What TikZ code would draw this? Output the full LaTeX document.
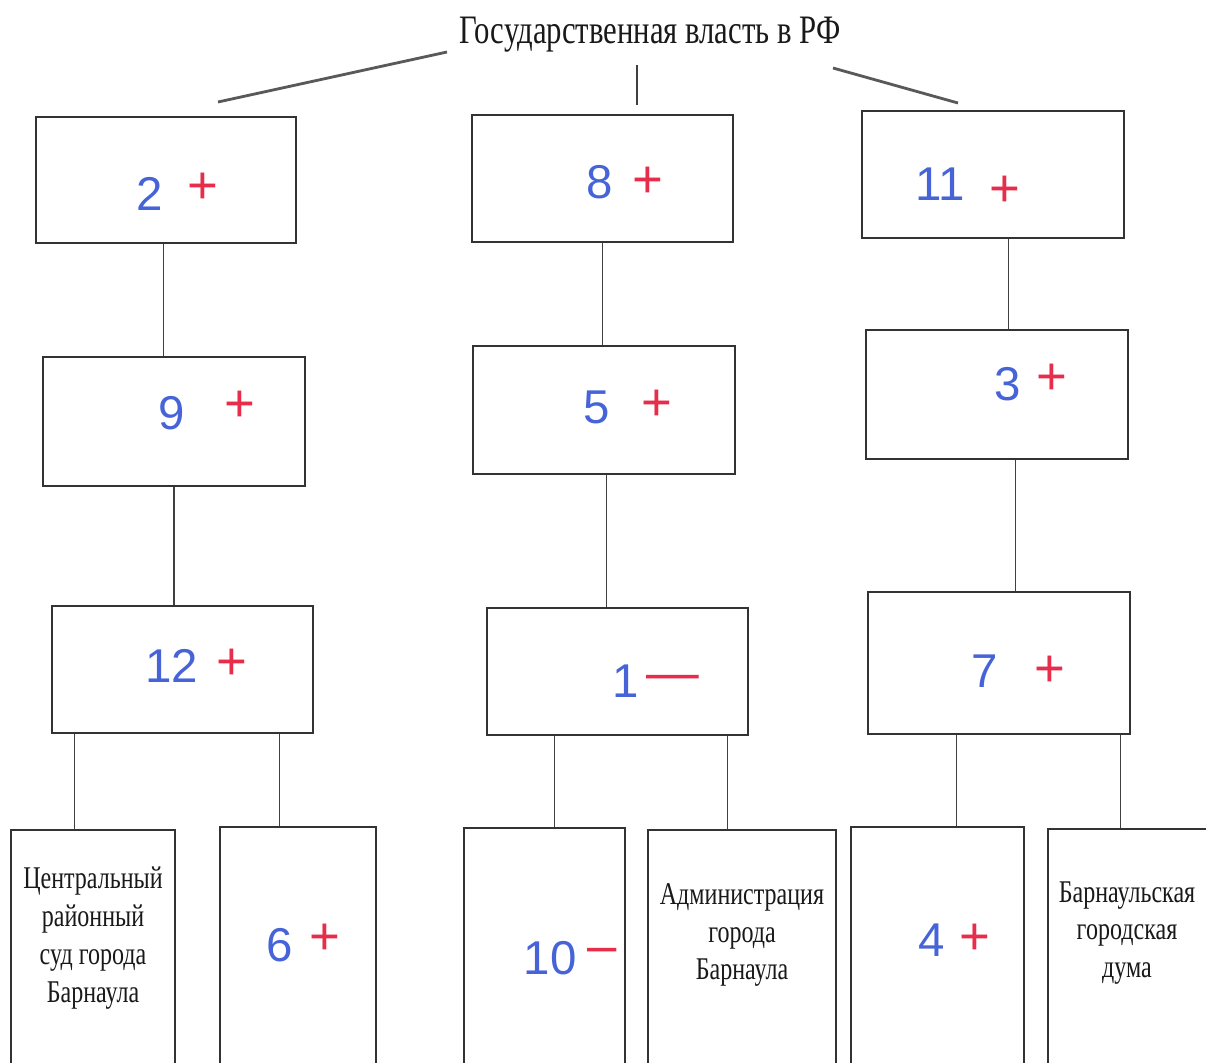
\documentclass[tikz,border=0pt]{standalone}
\usepackage{fontspec}
\setmainfont{Liberation Serif}
\newfontfamily\narrowfont[FakeStretch=0.76]{Liberation Serif}
\newfontfamily\handfont{Liberation Sans}
\usetikzlibrary{fit,calc}
\definecolor{ink}{RGB}{70,100,215}
\definecolor{redpen}{RGB}{232,45,75}
\tikzset{
  box/.style={draw=black!80, line width=0.8pt, inner sep=0pt},
  link/.style={draw=black!75, line width=0.6pt},
  stroke/.style={draw=black!65, line width=1.6pt},
  num/.style={font=\handfont\fontsize{27}{28}\selectfont, text=ink},
  grade/.style={font=\handfont\fontsize{30}{30}\selectfont, text=redpen},
  print/.style={font=\narrowfont\fontsize{18}{21.6}\selectfont, align=center, text=black!90}
}
\begin{document}
\begin{tikzpicture}[x=0.02cm, y=-0.02cm]
    \clip (0,0) rectangle (1206,1062);
    \fill[white] (0,0) rectangle (1206,1062);
    % title and its three strokes
    \node[font=\narrowfont\fontsize{23}{26}\selectfont, text=black!90] (title) at (650,35) {Государственная власть в РФ};
    \coordinate (sl1) at (447,52);  \coordinate (sl2) at (218,102);
    \coordinate (sm1) at (637,65);  \coordinate (sm2) at (637,105);
    \coordinate (sr1) at (833,68);  \coordinate (sr2) at (958,103);
    \draw[stroke] (sl1) -- (sl2);
    \draw[link] (sm1) -- (sm2);
    \draw[stroke] (sr1) -- (sr2);
    % first row
    \node[box, fit={(36,117) (296,243)}] (a1) {};
    \node[box, fit={(472,115) (733,242)}] (b1) {};
    \node[box, fit={(862,111) (1124,238)}] (c1) {};
    % second row
    \node[box, fit={(43,357) (305,486)}] (a2) {};
    \node[box, fit={(473,346) (735,474)}] (b2) {};
    \node[box, fit={(866,330) (1128,459)}] (c2) {};
    % third row
    \node[box, fit={(52,606) (313,733)}] (a3) {};
    \node[box, fit={(487,608) (748,735)}] (b3) {};
    \node[box, fit={(868,592) (1130,734)}] (c3) {};
    % bottom row
    \node[box, fit={(11,830) (175,1080)}] (d1) {};
    \node[box, fit={(220,827) (376,1080)}] (d2) {};
    \node[box, fit={(464,828) (625,1080)}] (d3) {};
    \node[box, fit={(648,830) (836,1080)}] (d4) {};
    \node[box, fit={(851,827) (1024,1080)}] (d5) {};
    \node[box, fit={(1048,829) (1220,1080)}] (d6) {};
    % numbers and grades
    \node[num] (n2) at (150,194) {2};    \node[grade] (g2) at (203,188) {+};
    \node[num] (n8) at (600,182) {8};    \node[grade] (g8) at (648,182) {+};
    \node[num] (n11) at (940,184) {11};  \node[grade] (g11) at (1005,191) {+};
    \node[num] (n9) at (172,413) {9};    \node[grade] (g9) at (240,406) {+};
    \node[num] (n5) at (597,407) {5};    \node[grade] (g5) at (657,405) {+};
    \node[num] (n3) at (1008,384) {3};   \node[grade] (g3) at (1052,379) {+};
    \node[num] (n12) at (172,666) {12};  \node[grade] (g12) at (232,664) {+};
    \node[num] (n1) at (626,681) {1};    \node[grade] (g1) at (673,683) {—};
    \node[num] (n7) at (985,671) {7};    \node[grade] (g7) at (1050,671) {+};
    \node[num] (n6) at (280,945) {6};    \node[grade] (g6) at (325,939) {+};
    \node[num] (n10) at (550,958) {10};  \node[grade] (g10) at (602,956) {–};
    \node[num] (n4) at (932,940) {4};    \node[grade] (g4) at (975,939) {+};
    \node[print] (t1) at (93,938) {Центральный\\районный\\суд города\\Барнаула};
    \node[print] (t4) at (742,935) {Администрация\\города\\Барнаула};
    \node[print] (t6) at (1127,933) {Барнаульская\\городская\\дума};
    % vertical links
    \coordinate (ka1) at ($(a1.south west)!.49!(a1.south east)$);
    \coordinate (ka2) at ($(a2.south west)!.50!(a2.south east)$);
    \coordinate (kb1) at ($(b1.south west)!.50!(b1.south east)$);
    \coordinate (kb2) at ($(b2.south west)!.51!(b2.south east)$);
    \coordinate (kc1) at ($(c1.south west)!.56!(c1.south east)$);
    \coordinate (kc2) at ($(c2.south west)!.57!(c2.south east)$);
    \coordinate (ka3l) at ($(a3.south west)!.09!(a3.south east)$);
    \coordinate (ka3r) at ($(a3.south west)!.87!(a3.south east)$);
    \coordinate (kb3l) at ($(b3.south west)!.26!(b3.south east)$);
    \coordinate (kb3r) at ($(b3.south west)!.92!(b3.south east)$);
    \coordinate (kc3l) at ($(c3.south west)!.34!(c3.south east)$);
    \coordinate (kc3r) at ($(c3.south west)!.96!(c3.south east)$);
    \draw[link] (ka1) -- (ka1 |- a2.north);
    \draw[link] (ka2) -- (ka2 |- a3.north);
    \draw[link] (kb1) -- (kb1 |- b2.north);
    \draw[link] (kb2) -- (kb2 |- b3.north);
    \draw[link] (kc1) -- (kc1 |- c2.north);
    \draw[link] (kc2) -- (kc2 |- c3.north);
    \draw[link] (ka3l) -- (ka3l |- d1.north);
    \draw[link] (ka3r) -- (ka3r |- d2.north);
    \draw[link] (kb3l) -- (kb3l |- d3.north);
    \draw[link] (kb3r) -- (kb3r |- d4.north);
    \draw[link] (kc3l) -- (kc3l |- d5.north);
    \draw[link] (kc3r) -- (kc3r |- d6.north);
\end{tikzpicture}
\end{document}
